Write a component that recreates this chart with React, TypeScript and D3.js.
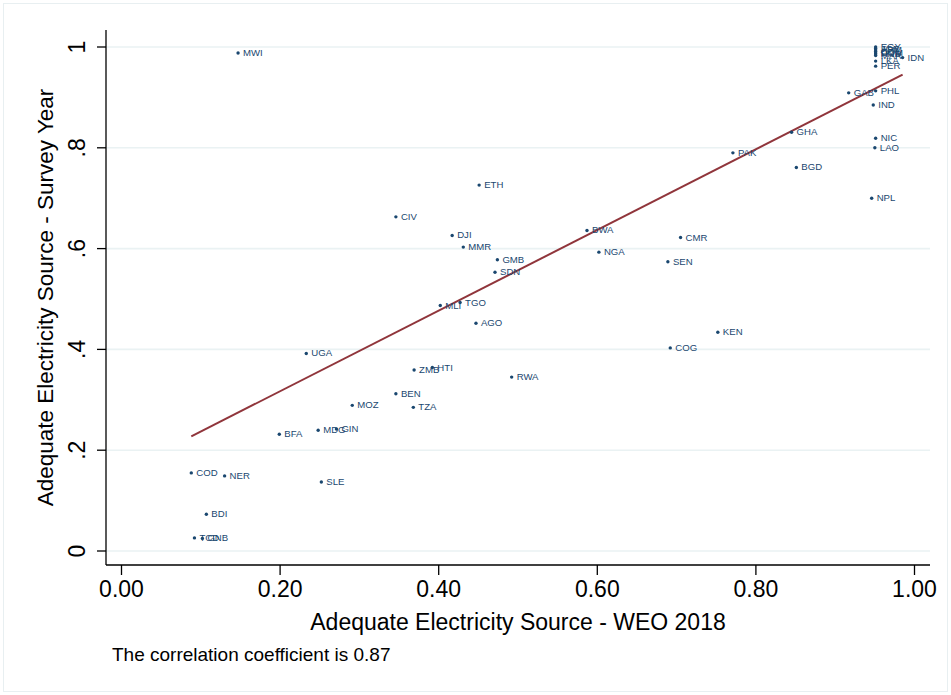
import React from "react";
import * as d3 from "d3";

const countries = [
  "MWI", "EGY", "JOR", "ARM", "COL", "DOM", "HND", "MAR", "LKA", "PER", "IDN",
  "GAB", "PHL", "IND", "NIC", "LAO", "NPL", "GHA", "PAK", "BGD",
  "ETH", "CIV", "DJI", "MMR", "GMB", "SDN", "BWA", "CMR", "NGA", "SEN",
  "KEN", "COG", "MLI", "TGO", "AGO", "UGA", "ZMB", "HTI", "RWA", "BEN",
  "MOZ", "TZA", "BFA", "MDG", "GIN", "COD", "NER", "SLE", "BDI", "TCD", "GNB",
];
const weo2018 = [
  0.147, 0.951, 0.951, 0.951, 0.951, 0.951, 0.951, 0.951, 0.951, 0.951, 0.985,
  0.917, 0.951, 0.948, 0.951, 0.950, 0.946, 0.845, 0.771, 0.851,
  0.451, 0.346, 0.417, 0.431, 0.474, 0.471, 0.587, 0.705, 0.602, 0.689,
  0.752, 0.692, 0.402, 0.427, 0.447, 0.233, 0.369, 0.392, 0.492, 0.346,
  0.291, 0.368, 0.199, 0.248, 0.271, 0.088, 0.130, 0.252, 0.107, 0.092, 0.102,
];
const surveyYear = [
  0.988, 1.0, 0.997, 0.994, 0.991, 0.988, 0.986, 0.983, 0.972, 0.962, 0.979,
  0.909, 0.913, 0.885, 0.819, 0.800, 0.700, 0.831, 0.790, 0.761,
  0.726, 0.663, 0.626, 0.603, 0.578, 0.553, 0.636, 0.622, 0.593, 0.574,
  0.434, 0.403, 0.487, 0.493, 0.452, 0.392, 0.359, 0.364, 0.345, 0.312,
  0.289, 0.285, 0.2315, 0.2395, 0.242, 0.155, 0.149, 0.137, 0.073, 0.026, 0.025,
];
const xTicks = [0, 0.2, 0.4, 0.6, 0.8, 1.0];
const xTickLabels = ["0.00", "0.20", "0.40", "0.60", "0.80", "1.00"];
const yTicks = [0, 0.2, 0.4, 0.6, 0.8, 1.0];
const yTickLabels = ["0", ".2", ".4", ".6", ".8", "1"];
const FIT_INTERCEPT = 0.157;
const FIT_SLOPE = 0.8;
const xTitle = "Adequate Electricity Source - WEO 2018";
const yTitle = "Adequate Electricity Source - Survey Year";
const note = "The correlation coefficient is 0.87";

const W = 951;
const H = 695;
const axisLeft = 106;
const axisRight = 930;
const axisTop = 30;
const axisBottom = 565;

export default function App() {
  const x = d3.scaleLinear().domain([0, 1]).range([121.5, 914.5]);
  const y = d3.scaleLinear().domain([0, 1]).range([551, 47]);
  const xMin = d3.min(weo2018) as number;
  const xMax = d3.max(weo2018) as number;
  const fitLine = d3
    .line<number>()
    .x((v) => x(v))
    .y((v) => y(FIT_INTERCEPT + FIT_SLOPE * v));
  const font = "'Liberation Sans', Arial, sans-serif";
  const navy = "#1a476f";

  return (
    <div style={{ position: "absolute", left: 0, top: 0 }}>
      <svg width={W} height={H} style={{ display: "block", background: "#fff" }} fontFamily={font}>
        <rect x={3.5} y={3.5} width={W - 7} height={H - 7} fill="#fff" stroke="#e8eff1" strokeWidth={1} />
        {yTicks.map((t) => (
          <line key={"g" + t} x1={axisLeft} x2={axisRight} y1={y(t)} y2={y(t)} stroke="#eaf2f3" strokeWidth={1.6} />
        ))}
        <path d={fitLine([xMin, xMax]) || ""} fill="none" stroke="#90353b" strokeWidth={2} />
        {countries.map((c, i) => (
          <g key={c}>
            <circle cx={x(weo2018[i])} cy={y(surveyYear[i])} r={1.7} fill={navy} />
            <text
              x={x(weo2018[i]) + 5}
              y={y(surveyYear[i]) - 0.5}
              fontSize={9.6}
              fill={navy}
              dominantBaseline="central"
            >
              {c}
            </text>
          </g>
        ))}
        <line x1={axisLeft} x2={axisLeft} y1={axisTop} y2={axisBottom} stroke="#000" strokeWidth={1.3} />
        <line x1={axisLeft} x2={axisRight} y1={axisBottom} y2={axisBottom} stroke="#000" strokeWidth={1.3} />
        {yTicks.map((t, i) => (
          <g key={"yt" + t}>
            <line x1={axisLeft - 9} x2={axisLeft} y1={y(t)} y2={y(t)} stroke="#000" strokeWidth={1.3} />
            <text
              transform={`translate(${85},${y(t)}) rotate(-90)`}
              textAnchor="middle"
              fontSize={23}
              fill="#000"
            >
              {yTickLabels[i]}
            </text>
          </g>
        ))}
        {xTicks.map((t, i) => (
          <g key={"xt" + t}>
            <line x1={x(t)} x2={x(t)} y1={axisBottom} y2={axisBottom + 10} stroke="#000" strokeWidth={1.3} />
            <text x={x(t)} y={597} textAnchor="middle" fontSize={23} fill="#000">
              {xTickLabels[i]}
            </text>
          </g>
        ))}
        <text x={(axisLeft + axisRight) / 2} y={630} textAnchor="middle" fontSize={23} fill="#000">
          {xTitle}
        </text>
        <text
          transform={`translate(53,${(axisTop + axisBottom) / 2}) rotate(-90)`}
          textAnchor="middle"
          fontSize={22.5}
          fill="#000"
        >
          {yTitle}
        </text>
        <text x={112} y={661} fontSize={19} fill="#000">
          {note}
        </text>
      </svg>
    </div>
  );
}
